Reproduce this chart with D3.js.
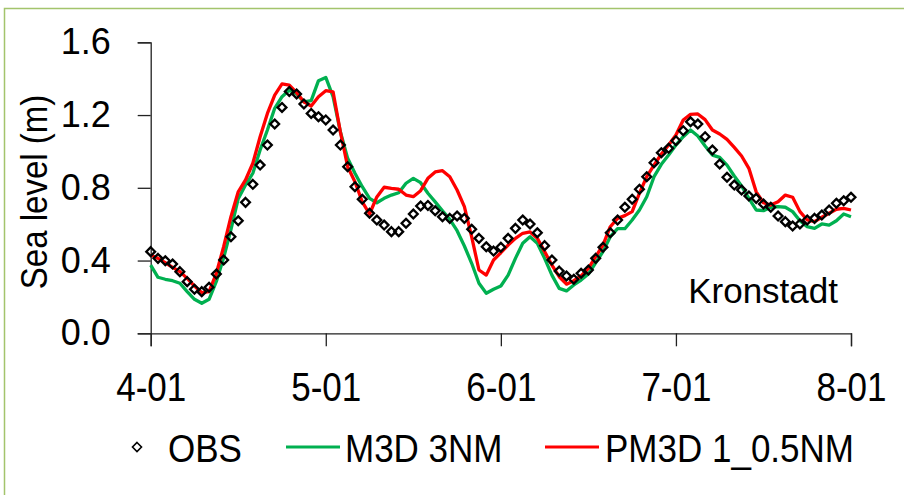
<!DOCTYPE html>
<html>
<head>
<meta charset="utf-8">
<script src="https://cdn.jsdelivr.net/npm/d3@7/dist/d3.min.js"></script>
<style>
  body { margin: 0; background: #fff; }
  svg text { font-family: "Liberation Sans", Arial, sans-serif; fill: #000; }
</style>
</head>
<body>
<svg id="chart"></svg>
<script>
// month tick labels (x domain is in months from 4-01)
const months = ['4-01', '5-01', '6-01', '7-01', '8-01']
const yTicks = [0, 0.4, 0.8, 1.2, 1.6]
const step = 1 / 24

// observed sea level (m), one value per step
const obs = [0.449, 0.412, 0.399, 0.381, 0.339, 0.284, 0.242, 0.229, 0.253, 0.326,
  0.403, 0.531, 0.619, 0.720, 0.819, 0.925, 1.035, 1.151, 1.242, 1.330,
  1.316, 1.261, 1.209, 1.191, 1.173, 1.118, 1.035, 0.916, 0.806, 0.737,
  0.660, 0.623, 0.595, 0.559, 0.559, 0.605, 0.656, 0.700, 0.703, 0.674,
  0.641, 0.632, 0.645, 0.632, 0.572, 0.522, 0.476, 0.452, 0.473, 0.522,
  0.577, 0.623, 0.601, 0.553, 0.482, 0.403, 0.342, 0.315, 0.297, 0.330,
  0.348, 0.412, 0.473, 0.553, 0.623, 0.693, 0.737, 0.792, 0.861, 0.938,
  0.993, 1.017, 1.059, 1.114, 1.163, 1.151, 1.081, 1.008, 0.931, 0.858,
  0.815, 0.788, 0.755, 0.742, 0.711, 0.693, 0.645, 0.614, 0.590, 0.601,
  0.623, 0.632, 0.650, 0.678, 0.715, 0.729, 0.748]

// M3D 3NM model
const m3d = [0.375, 0.308, 0.297, 0.289, 0.275, 0.229, 0.187, 0.165, 0.187, 0.285,
  0.415, 0.570, 0.740, 0.815, 0.880, 1.008, 1.118, 1.237, 1.301, 1.338,
  1.316, 1.273, 1.279, 1.389, 1.407, 1.301, 1.108, 0.962, 0.880, 0.806,
  0.742, 0.718, 0.742, 0.760, 0.773, 0.825, 0.852, 0.828, 0.770, 0.723,
  0.674, 0.627, 0.564, 0.480, 0.385, 0.275, 0.220, 0.242, 0.260, 0.320,
  0.412, 0.495, 0.531, 0.495, 0.412, 0.320, 0.247, 0.233, 0.266, 0.293,
  0.326, 0.388, 0.449, 0.531, 0.575, 0.575, 0.623, 0.678, 0.751, 0.861,
  0.929, 0.980, 1.035, 1.081, 1.118, 1.085, 1.030, 0.980, 0.967, 0.925,
  0.865, 0.810, 0.742, 0.678, 0.674, 0.693, 0.696, 0.693, 0.669, 0.619,
  0.586, 0.577, 0.601, 0.595, 0.619, 0.656, 0.641]

// PM3D 1_0.5NM model
const pm3d = [0.430, 0.412, 0.388, 0.363, 0.339, 0.302, 0.260, 0.223, 0.229, 0.330,
  0.476, 0.641, 0.778, 0.843, 0.935, 1.081, 1.209, 1.310, 1.371, 1.365,
  1.323, 1.273, 1.250, 1.301, 1.334, 1.328, 1.108, 0.916, 0.833, 0.723,
  0.656, 0.750, 0.803, 0.797, 0.792, 0.760, 0.751, 0.784, 0.852, 0.887,
  0.894, 0.861, 0.788, 0.696, 0.530, 0.348, 0.320, 0.403, 0.443, 0.485,
  0.522, 0.550, 0.557, 0.522, 0.449, 0.375, 0.311, 0.270, 0.289, 0.315,
  0.357, 0.421, 0.485, 0.586, 0.632, 0.647, 0.669, 0.770, 0.861, 0.925,
  0.986, 1.035, 1.090, 1.173, 1.204, 1.206, 1.175, 1.118, 1.096, 1.066,
  1.022, 0.975, 0.907, 0.778, 0.718, 0.705, 0.723, 0.760, 0.748, 0.669,
  0.623, 0.614, 0.638, 0.660, 0.682, 0.687, 0.678]

const width = 904
const height = 495

const svg = d3.select('#chart')
  .attr('width', width)
  .attr('height', height)

// light green frame
svg.append('rect')
  .attr('x', 4.5).attr('y', 8.5)
  .attr('width', 920).attr('height', 520)
  .attr('fill', 'none')
  .attr('stroke', '#a3c46c')
  .attr('stroke-width', 1.5)

// text in the original is a bit narrower than Arial: keep the width of
// the smaller size, draw at the taller size
function narrow(sel, baseSize, bigSize) {
  sel.each(function () {
    const t = d3.select(this).style('font-size', baseSize + 'px')
    const len = this.getComputedTextLength()
    t.style('font-size', bigSize + 'px')
      .attr('textLength', len)
      .attr('lengthAdjust', 'spacingAndGlyphs')
  })
}

const x = d3.scaleLinear().domain([0, 4]).range([150.7, 851])
const y = d3.scaleLinear().domain([0, 1.6]).range([333.3, 42.3])

const xAxis = d3.axisBottom(x)
  .tickValues([0, 1, 2, 3, 4])
  .tickFormat(i => months[i])
  .tickSize(13)
  .tickPadding(26)

const yAxis = d3.axisLeft(y)
  .tickValues(yTicks)
  .tickFormat(d3.format('.1f'))
  .tickSize(13)
  .tickPadding(27)

const gx = svg.append('g')
  .attr('transform', 'translate(0,' + y(0) + ')')
  .call(xAxis)
const gy = svg.append('g')
  .attr('transform', 'translate(' + x(0) + ',0)')
  .call(yAxis)

;[gx, gy].forEach(g => {
  g.selectAll('path, line').attr('stroke', '#222').attr('stroke-width', 1.3)
  g.selectAll('text')
    .style('font-family', '"Liberation Sans", Arial, sans-serif')
    .style('font-size', '36px')
    .attr('fill', '#000')
})
narrow(gx.selectAll('text'), 35, 40)

const line = d3.line()
  .x((d, i) => x(i * step))
  .y(d => y(d))

svg.append('path')
  .datum(m3d)
  .attr('d', line)
  .attr('fill', 'none')
  .attr('stroke', '#00b050')
  .attr('stroke-width', 3.3)
  .attr('stroke-linejoin', 'round')

svg.append('path')
  .datum(pm3d)
  .attr('d', line)
  .attr('fill', 'none')
  .attr('stroke', '#ff0000')
  .attr('stroke-width', 3.3)
  .attr('stroke-linejoin', 'round')

const diamond = r => `M0,${-r}L${r},0L0,${r}L${-r},0Z`

svg.selectAll('.obs')
  .data(obs)
  .enter()
  .append('path')
  .attr('class', 'obs')
  .attr('d', diamond(4.4))
  .attr('transform', (d, i) => 'translate(' + x(i * step) + ',' + y(d) + ')')
  .attr('fill', 'none')
  .attr('stroke', '#000')
  .attr('stroke-width', 2.3)

// station label
svg.append('text')
  .attr('x', 838)
  .attr('y', 303)
  .attr('text-anchor', 'end')
  .style('font-size', '35px')
  .text('Kronstadt')

// legend
const legendY = 447
const legend = svg.append('g')

legend.append('path')
  .attr('d', diamond(4.5))
  .attr('transform', 'translate(137,' + legendY + ')')
  .attr('fill', 'none')
  .attr('stroke', '#000')
  .attr('stroke-width', 1.6)
legend.append('text')
  .attr('x', 168).attr('y', legendY + 15)
  .text('OBS')

legend.append('line')
  .attr('x1', 286).attr('x2', 340)
  .attr('y1', legendY).attr('y2', legendY)
  .attr('stroke', '#00b050').attr('stroke-width', 3)
legend.append('text')
  .attr('x', 345).attr('y', legendY + 15)
  .text('M3D 3NM')

legend.append('line')
  .attr('x1', 545).attr('x2', 599)
  .attr('y1', legendY).attr('y2', legendY)
  .attr('stroke', '#ff0000').attr('stroke-width', 3)
legend.append('text')
  .attr('x', 605).attr('y', legendY + 15)
  .text('PM3D 1_0.5NM')

narrow(legend.selectAll('text'), 35, 39)

// y axis title
const title = svg.append('text')
  .attr('transform', 'translate(47,192) rotate(-90)')
  .attr('text-anchor', 'middle')
  .text('Sea level (m)')
narrow(title, 33, 36)
</script>
</body>
</html>
